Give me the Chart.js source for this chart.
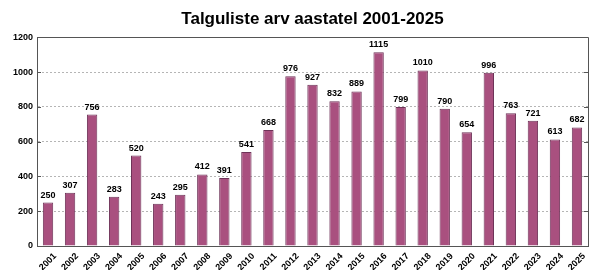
<!DOCTYPE html>
<html>
<head>
<meta charset="utf-8">
<script src="https://cdn.jsdelivr.net/npm/chart.js@4.4.1/dist/chart.umd.min.js"></script>
<style>
html,body{margin:0;padding:0;background:#fff;}
#wrap{width:600px;height:270px;position:relative;}
</style>
</head>
<body>
<div id="wrap"><canvas id="c" width="600" height="270"></canvas></div>
<script>
const years = ['2001','2002','2003','2004','2005','2006','2007','2008','2009','2010','2011','2012','2013','2014','2015','2016','2017','2018','2019','2020','2021','2022','2023','2024','2025'];
const counts = [250,307,756,283,520,243,295,412,391,541,668,976,927,832,889,1115,799,1010,790,654,996,763,721,613,682];
const yTicks = [0,200,400,600,800,1000,1200];
const titleText = 'Talguliste arv aastatel 2001-2025';

const FONT = '"Liberation Sans", Arial, sans-serif';

const frameAndLabels = {
  id: 'frameAndLabels',
  afterDatasetsDraw(chart) {
    const ctx = chart.ctx;
    const meta = chart.getDatasetMeta(0);
    ctx.save();
    ctx.fillStyle = '#000';
    ctx.font = 'bold 9px ' + FONT;
    ctx.textAlign = 'center';
    ctx.textBaseline = 'bottom';
    meta.data.forEach((el, i) => {
      ctx.fillText(String(counts[i]), el.x, el.y - 3);
    });
    ctx.restore();
  },
  afterDraw(chart) {
    const ctx = chart.ctx;
    const a = chart.chartArea;
    const ys = chart.scales.y;
    ctx.save();
    ctx.strokeStyle = '#555';
    ctx.lineWidth = 1;
    ctx.beginPath();
    ctx.moveTo(Math.round(a.left) + 0.5, Math.round(a.top) + 0.5);
    ctx.lineTo(Math.round(a.right) + 0.5, Math.round(a.top) + 0.5);
    ctx.lineTo(Math.round(a.right) + 0.5, Math.round(a.bottom) + 0.5);
    ctx.stroke();
    yTicks.forEach(v => {
      const y = Math.round(ys.getPixelForValue(v)) + 0.5;
      ctx.beginPath();
      ctx.moveTo(Math.round(a.right) - 4, y);
      ctx.lineTo(Math.round(a.right), y);
      ctx.moveTo(Math.round(a.left), y);
      ctx.lineTo(Math.round(a.left) + 4, y);
      ctx.stroke();
    });
    ctx.restore();
  }
};

new Chart(document.getElementById('c'), {
  type: 'bar',
  data: {
    labels: years,
    datasets: [{
      data: counts,
      backgroundColor: '#A9507F',
      borderColor: '#6E3358',
      borderWidth: 1,
      categoryPercentage: 1,
      barPercentage: 0.47
    }]
  },
  options: {
    responsive: false,
    animation: false,
    devicePixelRatio: 1,
    layout: { padding: { left: 0, right: 12, top: 0, bottom: 0 } },
    plugins: {
      legend: { display: false },
      tooltip: { enabled: false },
      title: {
        display: true,
        text: titleText,
        fullSize: false,
        color: '#000',
        font: { family: FONT, size: 17, weight: 'bold' },
        padding: { top: 9, bottom: 8 }
      }
    },
    scales: {
      x: {
        grid: { display: false, drawTicks: false },
        border: { display: true, color: '#555', width: 1 },
        ticks: {
          color: '#000',
          font: { family: FONT, size: 9, weight: 'bold' },
          minRotation: 45,
          maxRotation: 45,
          autoSkip: false,
          padding: 5,
          labelOffset: 7
        },
        afterFit(s) { s.height = 24; }
      },
      y: {
        min: 0,
        max: 1200,
        afterBuildTicks(s) { s.ticks = yTicks.map(v => ({ value: v })); },
        grid: { color: '#b5b5b5', lineWidth: 1, drawTicks: false },
        border: { display: true, color: '#555', width: 1, dash: [2, 2] },
        ticks: {
          color: '#000',
          font: { family: FONT, size: 9, weight: 'bold' },
          padding: 4,
          callback: (v) => String(v)
        },
        afterFit(s) { s.width = 37; }
      }
    }
  },
  plugins: [frameAndLabels]
});
</script>
</body>
</html>
